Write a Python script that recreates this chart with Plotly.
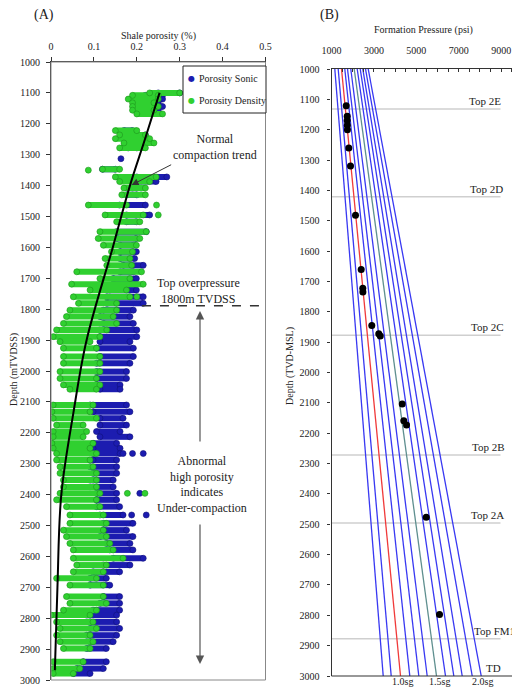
import plotly.graph_objects as go

# page body has an 8px margin; figure fills the rest of the 520x688 window
OX, OY = 8, 8
W, H = 520 - OX, 688 - OY
SERIF = "Liberation Serif"

# ---------------- Panel A data ----------------
# rows: depth (m), density porosity min/max, sonic porosity min/max
row_depth = [1100, 1108, 1120, 1132, 1144, 1156, 1168, 1222, 1236, 1248, 1262, 1278,
             1347, 1372, 1387, 1408, 1430, 1463, 1495, 1517, 1549, 1571, 1593, 1614,
             1636, 1658, 1679, 1701, 1719, 1738, 1760, 1781, 1803, 1824, 1846, 1867,
             1889, 1905, 1926, 1953, 1975, 2002, 2024, 2045, 2059, 2110, 2132, 2153,
             2175, 2196, 2213, 2234, 2250, 2267, 2288, 2310, 2331, 2353, 2375, 2396,
             2417, 2439, 2466, 2493, 2515, 2536, 2558, 2579, 2606, 2628, 2650, 2671,
             2693, 2730, 2752, 2774, 2790, 2812, 2833, 2855, 2876, 2898, 2941, 2963, 2979]
dens_min = [0.23, 0.19, 0.18, 0.19, 0.19, 0.19, 0.20, 0.15, 0.16, 0.15, 0.17, 0.16,
            0.12, 0.15, 0.16, 0.17, 0.165, 0.087, 0.126, 0.153, 0.114, 0.11, 0.122, 0.141,
            0.126, 0.13, 0.06, 0.114, 0.048, 0.091, 0.052, 0.064, 0.044, 0.036, 0.029, 0.013,
            0.005, 0.021, 0.029, 0.029, 0.029, 0.021, 0.021, 0.029, 0.044, 0.005, 0.002, 0.005,
            0.013, 0.005, 0.005, 0.002, 0.005, 0.013, 0.013, 0.021, 0.021, 0.029, 0.029, 0.021,
            0.013, 0.036, 0.044, 0.044, 0.029, 0.036, 0.044, 0.052, 0.052, 0.060, 0.052, 0.013,
            0.044, 0.036, 0.044, 0.029, 0.0, 0.013, 0.021, 0.013, 0.021, 0.029, 0.005, 0.005, 0.005]
dens_max = [0.30, 0.25, 0.25, 0.24, 0.25, 0.24, 0.26, 0.20, 0.22, 0.23, 0.24, 0.22,
            0.16, 0.245, 0.23, 0.22, 0.22, 0.176, 0.215, 0.207, 0.222, 0.207, 0.199, 0.19,
            0.184, 0.188, 0.211, 0.184, 0.215, 0.176, 0.184, 0.153, 0.153, 0.145, 0.153, 0.13,
            0.114, 0.091, 0.106, 0.114, 0.114, 0.114, 0.106, 0.114, 0.106, 0.098, 0.091, 0.106,
            0.075, 0.083, 0.075, 0.098, 0.091, 0.106, 0.091, 0.098, 0.106, 0.106, 0.106, 0.114,
            0.106, 0.114, 0.122, 0.129, 0.122, 0.129, 0.137, 0.145, 0.168, 0.129, 0.122, 0.106,
            0.122, 0.122, 0.129, 0.106, 0.091, 0.098, 0.106, 0.091, 0.098, 0.091, 0.075, 0.067, 0.052]
sonic_min = [0.25, 0.22, 0.23, 0.22, 0.22, 0.22, None, 0.17, 0.18, 0.19, None, 0.18,
             0.12, 0.20, 0.19, 0.19, 0.176, 0.16, 0.176, 0.176, 0.153, 0.153, 0.161, 0.161,
             0.161, 0.168, 0.161, 0.145, 0.145, 0.137, 0.13, 0.13, 0.122, 0.114, 0.122, 0.114,
             0.114, 0.114, 0.106, 0.114, 0.106, 0.106, 0.106, 0.106, 0.114, 0.091, 0.098, 0.114,
             0.114, 0.106, 0.114, 0.098, 0.098, 0.098, 0.098, 0.091, 0.098, 0.098, 0.091, 0.106,
             0.106, 0.106, 0.114, 0.122, 0.122, 0.114, 0.129, 0.137, 0.145, 0.122, 0.098, 0.091,
             0.091, 0.122, 0.114, 0.098, 0.083, 0.091, 0.091, 0.083, 0.091, 0.083, 0.075, 0.060, 0.052]
sonic_max = [0.30, 0.26, 0.26, 0.25, 0.26, 0.25, None, 0.19, 0.22, 0.22, None, 0.20,
             0.15, 0.27, 0.245, 0.21, 0.20, 0.22, 0.23, 0.199, 0.222, 0.199, 0.192, 0.199,
             0.195, 0.215, 0.192, 0.199, 0.199, 0.199, 0.215, 0.215, 0.192, 0.184, 0.192, 0.20,
             0.20, 0.184, 0.192, 0.192, 0.184, 0.176, 0.176, 0.161, 0.161, 0.176, 0.184, 0.168,
             0.176, 0.161, 0.184, 0.153, 0.161, 0.161, 0.153, 0.153, 0.153, 0.145, 0.145, 0.153,
             0.153, 0.160, 0.168, 0.191, 0.176, 0.191, 0.184, 0.191, 0.215, 0.184, 0.160, 0.129,
             0.137, 0.160, 0.160, 0.160, 0.153, 0.153, 0.160, 0.153, 0.145, 0.129, 0.129, 0.122, 0.091]

# scattered single points
dens_pt_depth = [1350, 1463, 1495, 1760, 2396, 2396]
dens_pt_por = [0.087, 0.246, 0.250, 0.200, 0.178, 0.219]
sonic_pt_depth = [1313, 2267, 2267, 2267, 2396, 2466, 2466]
sonic_pt_por = [0.163, 0.168, 0.190, 0.215, 0.207, 0.188, 0.222]

# normal compaction trend
trend_depth = [1100, 1250, 1400, 1600, 1900, 2137, 2400, 2700, 2968]
trend_por = [0.253, 0.219, 0.184, 0.144, 0.083, 0.052, 0.024, 0.015, 0.009]

overpressure_depth = 1789

# ---------------- Panel B data ----------------
grad_depth = [1000, 3000]
grad_top_psi = [1156, 1316, 1472, 1627, 1755, 1910, 2071, 2212, 2354, 2476, 2604, 2731]
grad_bot_psi = [3439, 3816, 4255, 4693, 5118, 5514, 5953, 6377, 6769, 7165, 7637, 8061]

press_depth = [1121, 1156, 1170, 1185, 1200, 1260, 1320, 1482, 1661, 1722, 1735,
               1845, 1872, 1880, 2104, 2159, 2173, 2477, 2797]
press_psi = [1693, 1740, 1740, 1745, 1750, 1816, 1896, 2132, 2400, 2476, 2480,
             2900, 3230, 3300, 4335, 4410, 4538, 5467, 6094]

top_names = ["Top 2E", "Top 2D", "Top 2C", "Top 2B", "Top 2A", "Top FM1", "TD"]
top_depth = [1132, 1421, 1877, 2272, 2496, 2877, 3000]

sg_labels = ["1.0sg", "1.5sg", "2.0sg"]
legend_names = ["Porosity Sonic", "Porosity Density"]

# ---------------- styling ----------------
GREEN = "#30d030"
GREEN_EDGE = "#1c931c"
BLUE = "#1c1cb0"
BLUE_EDGE = "#10107a"
grad_colors = ["#3838f2"] * 12
grad_colors[2] = "#f03a3a"
grad_colors[6] = "#5f8f8f"


def px(x, y):
    """window pixel -> paper coordinates"""
    return (x - OX) / W, 1 - (y - OY) / H


fig = go.Figure()


def band(depths, lo, hi):
    xs, ys = [], []
    for d, a, b in zip(depths, lo, hi):
        if a is None:
            continue
        xs += [a, b, None]
        ys += [d, d, None]
    return xs, ys


bmark = dict(color=BLUE, size=6, line=dict(color=BLUE_EDGE, width=0.6))
gmark = dict(color=GREEN, size=6, line=dict(color=GREEN_EDGE, width=0.6))

bx, by = band(row_depth, sonic_min, sonic_max)
fig.add_trace(go.Scatter(x=bx, y=by, mode="lines+markers", name=legend_names[0],
                         line=dict(color=BLUE, width=6), marker=bmark,
                         hoverinfo="skip", xaxis="x", yaxis="y"))
fig.add_trace(go.Scatter(x=sonic_pt_por, y=sonic_pt_depth, mode="markers", name=legend_names[0],
                         marker=bmark, xaxis="x", yaxis="y"))
gx, gy = band(row_depth, dens_min, dens_max)
fig.add_trace(go.Scatter(x=gx, y=gy, mode="lines+markers", name=legend_names[1],
                         line=dict(color=GREEN, width=6), marker=gmark,
                         hoverinfo="skip", xaxis="x", yaxis="y"))
fig.add_trace(go.Scatter(x=dens_pt_por, y=dens_pt_depth, mode="markers", name=legend_names[1],
                         marker=gmark, xaxis="x", yaxis="y"))
fig.add_trace(go.Scatter(x=trend_por, y=trend_depth, mode="lines", name="Normal compaction trend",
                         line=dict(color="black", width=2, shape="spline"),
                         xaxis="x", yaxis="y"))

# Panel B
for i in range(len(grad_top_psi)):
    fig.add_trace(go.Scatter(x=[grad_top_psi[i], grad_bot_psi[i]], y=grad_depth, mode="lines",
                             line=dict(color=grad_colors[i], width=1.3),
                             xaxis="x2", yaxis="y2"))
fig.add_trace(go.Scatter(x=press_psi, y=press_depth, mode="markers",
                         marker=dict(color="black", size=7), xaxis="x2", yaxis="y2"))

shapes = []
annotations = []
tick_font = dict(family=SERIF, size=10, color="#222")
text_font = dict(family=SERIF, size=12, color="#222")

for name, d in zip(top_names, top_depth):
    if d < 3000:
        shapes.append(dict(type="line", xref="x2", yref="y2", x0=1000, x1=8970, y0=d, y1=d,
                           line=dict(color="#cfcfcf", width=1.5), layer="below"))
label_x_px = [467, 468, 469, 470, 469, 472, 484]
for name, d, lx in zip(top_names, top_depth, label_x_px):
    xp, _ = px(lx, 0)
    annotations.append(dict(text=name, xref="paper", yref="y2", x=xp, y=d, xanchor="left",
                            yanchor="bottom", showarrow=False, font=dict(family=SERIF, size=11, color="#222")))

for lab, cx in zip(sg_labels, [402, 439, 482]):
    xp, yp = px(cx, 681)
    annotations.append(dict(text=lab, xref="paper", yref="paper", x=xp, y=yp, xanchor="center",
                            yanchor="middle", showarrow=False, font=dict(family=SERIF, size=10, color="#222")))

# Panel A box
xa0, ya1 = px(51, 62)
xa1, ya0 = px(265.5, 680)
shapes.append(dict(type="rect", xref="paper", yref="paper", x0=xa0, x1=xa1, y0=ya0, y1=ya1,
                   line=dict(color="#888", width=1)))
# overpressure dashed line
shapes.append(dict(type="line", xref="x", yref="y", x0=0.212, x1=0.5, y0=overpressure_depth,
                   y1=overpressure_depth, line=dict(color="#333", width=1.5, dash="dash")))

# legend box (drawn by hand to match the original size)
lx0, ly1 = px(183, 66)
lx1, ly0 = px(266, 113)
shapes.append(dict(type="rect", xref="paper", yref="paper", x0=lx0, x1=lx1, y0=ly0, y1=ly1,
                   line=dict(color="#222", width=1), fillcolor="white", layer="above"))

xb0, yb1 = px(331.5, 69)
_, yb0 = px(0, 676)


def add_text(t, x, y, font, **kw):
    xp, yp = px(x, y)
    d = dict(text=t, xref="paper", yref="paper", x=xp, y=yp, showarrow=False, font=font,
             xanchor="center", yanchor="middle")
    d.update(kw)
    annotations.append(d)

# legend glyphs and labels
for name, col, yy in [(legend_names[0], BLUE, 79), (legend_names[1], GREEN, 101)]:
    add_text("●", 191, yy, dict(family="DejaVu Sans", size=8, color=col))
    add_text(name, 197, yy, dict(family=SERIF, size=10, color="#222"), xanchor="left")

add_text("(A)", 44, 15, dict(family=SERIF, size=14, color="#222"))
add_text("(B)", 329, 15, dict(family=SERIF, size=14, color="#222"))
add_text("Shale porosity (%)", 158, 36, dict(family=SERIF, size=10, color="#222"))
add_text("Formation Pressure (psi)", 423, 30, dict(family=SERIF, size=10, color="#222"))
add_text("Depth (mTVDSS)", 14, 370, dict(family=SERIF, size=10, color="#222"), textangle=-90)
add_text("Depth (TVD-MSL)", 290, 366, dict(family=SERIF, size=10, color="#222"), textangle=-90)
add_text("Normal<br>compaction trend", 215, 147, text_font)
add_text("Top overpressure<br>1800m TVDSS", 198, 291, text_font)
add_text("Abnormal<br>high porosity<br>indicates<br>Under-compaction", 202, 485, text_font)

annotations.append(dict(xref="x", yref="y", x=0.188, y=1398, ax=41, ay=-21, text="",
                        showarrow=True, arrowhead=2, arrowsize=1.4, arrowwidth=1, arrowcolor="#333"))
xp, yp = px(200, 311)
annotations.append(dict(xref="paper", yref="paper", x=xp, y=yp, ax=0, ay=132, text="",
                        showarrow=True, arrowhead=2, arrowsize=1.4, arrowwidth=1.2, arrowcolor="#555"))
xp, yp = px(200, 664)
annotations.append(dict(xref="paper", yref="paper", x=xp, y=yp, ax=0, ay=-141, text="",
                        showarrow=True, arrowhead=2, arrowsize=1.4, arrowwidth=1.2, arrowcolor="#555"))

axis_common = dict(showgrid=False, zeroline=False, showline=True, linecolor="#333", linewidth=1.2,
                   tickcolor="#333", tickfont=tick_font, automargin=False)

fig.update_layout(
    width=W, height=H, margin=dict(l=0, r=0, t=0, b=0, autoexpand=False),
    paper_bgcolor="white", plot_bgcolor="white",
    showlegend=False,
    xaxis=dict(domain=[xa0, xa1], range=[0, 0.5], side="top", dtick=0.1, tick0=0,
               ticks="outside", ticklen=4, anchor="y", ticklabelstandoff=3, **axis_common),
    yaxis=dict(domain=[ya0, ya1], range=[3000, 1000], dtick=100, tick0=1000,
               ticks="outside", ticklen=4, anchor="x", ticklabelstandoff=4, **axis_common),
    xaxis2=dict(domain=[xb0, 1.0], range=[1000, 9890], side="top",
                tickvals=[1000, 3000, 5000, 7000, 9000],
                ticks="inside", ticklen=3, anchor="y2",
                minor=dict(dtick=500, tick0=1000, ticks="inside", ticklen=3, tickcolor="#333"),
                ticklabelstandoff=10, **axis_common),
    yaxis2=dict(domain=[yb0, yb1], range=[3000, 1000], dtick=100, tick0=1000,
                ticks="outside", ticklen=3, anchor="x2", ticklabelstandoff=6, **axis_common),
    shapes=shapes, annotations=annotations,
)
fig.add_shape(type="line", xref="paper", yref="paper", x0=xb0, x1=1.0, y0=yb0, y1=yb0,
              line=dict(color="#333", width=1.2))

fig.write_html("out.html")
